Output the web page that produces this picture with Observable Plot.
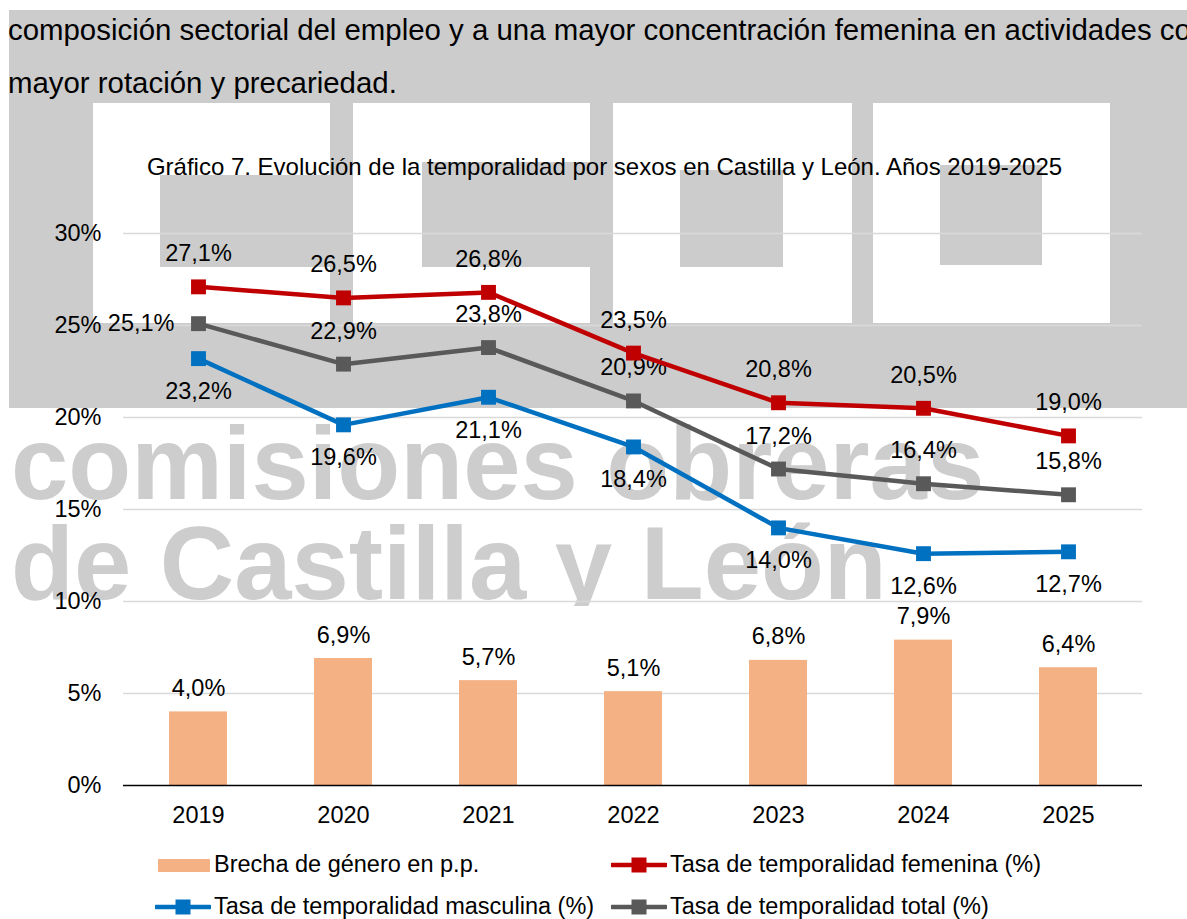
<!DOCTYPE html>
<html>
<head>
<meta charset="utf-8">
<script src="https://cdn.jsdelivr.net/npm/d3@7"></script>
<script src="https://cdn.jsdelivr.net/npm/@observablehq/plot@0.6"></script>
<style>
  html, body { margin: 0; padding: 0; background: #fff; width: 1187px; height: 919px; overflow: hidden; }
  body { position: relative; font-family: "Liberation Sans", Arial, sans-serif; color: #000; }
  .abs { position: absolute; }
  .wm { background: #cccccc; position: absolute; }
  .wh { background: #ffffff; position: absolute; }
  #para { left: 8px; top: 3.2px; font-size: 29.4px; line-height: 53px; white-space: nowrap; }
  #title { left: 604.5px; top: 154.7px; transform: translateX(-50%); font-size: 24px; line-height: 24px; white-space: nowrap; }
  #wmtext { left: 0; top: 410px; width: 1187px; height: 196px; overflow: hidden; }
  #wmtext div { position: absolute; left: 11px; top: 4.3px; font-size: 103px; line-height: 100px; font-weight: bold; color: #cdcdcd; white-space: nowrap; }
  #chart { left: 0; top: 190px; }
  .leg { position: absolute; font-size: 23.5px; line-height: 23.5px; white-space: nowrap; }
</style>
</head>
<body>
<!-- background watermark -->
<div class="wm" style="left:9px;top:10px;width:1178px;height:398px;"></div>
<div class="wh" style="left:93px;top:103px;width:237px;height:220px;"></div>
<div class="wh" style="left:353px;top:103px;width:237px;height:220px;"></div>
<div class="wh" style="left:613px;top:103px;width:239px;height:220px;"></div>
<div class="wh" style="left:873px;top:103px;width:237px;height:220px;"></div>
<div class="wm" style="left:160px;top:175px;width:170px;height:92px;"></div>
<div class="wm" style="left:422px;top:162px;width:168px;height:105px;"></div>
<div class="wm" style="left:680px;top:170px;width:103px;height:97px;"></div>
<div class="wm" style="left:940px;top:165px;width:102px;height:100px;"></div>
<div id="wmtext" class="abs"><div>comisiones obreras<br>de Castilla y León</div></div>

<div id="para" class="abs">composición sectorial del empleo y a una mayor concentración femenina en actividades con<br>mayor rotación y precariedad.</div>
<div id="title" class="abs">Gráfico 7. Evolución de la temporalidad por sexos en Castilla y León. Años 2019-2025</div>
<div id="chart" class="abs"></div>
<div id="legend"></div>

<script>
// ---- data ----
const years = ["2019", "2020", "2021", "2022", "2023", "2024", "2025"];
const brecha = [4.0, 6.9, 5.7, 5.1, 6.8, 7.9, 6.4];
const femenina = [27.1, 26.5, 26.8, 23.5, 20.8, 20.5, 19.0];
const masculina = [23.2, 19.6, 21.1, 18.4, 14.0, 12.6, 12.7];
const total = [25.1, 22.9, 23.8, 20.9, 17.2, 16.4, 15.8];
const yTicks = [0, 5, 10, 15, 20, 25, 30];
const seriesNames = ["Brecha de género en p.p.", "Tasa de temporalidad femenina (%)", "Tasa de temporalidad masculina (%)", "Tasa de temporalidad total (%)"];

const colors = { brecha: "#F4B183", femenina: "#C00000", masculina: "#0070C0", total: "#595959" };
const rows = years.map((year, i) => ({ year, brecha: brecha[i], femenina: femenina[i], masculina: masculina[i], total: total[i] }));
const fmt = v => v.toFixed(1).replace(".", ",") + "%";
const FS = 23.5;

function lineMarks(key, labelDy, firstLeft) {
  const marks = [
    Plot.line(rows, { x: "year", y: key, stroke: colors[key], strokeWidth: 4.5 }),
    Plot.dot(rows, { x: "year", y: key, symbol: "square", r: 8.4, fill: colors[key], stroke: "none" })
  ];
  if (firstLeft) {
    marks.push(Plot.text(rows.slice(0, 1), { x: "year", y: key, text: d => fmt(d[key]), dx: -24, textAnchor: "end", fontSize: FS, fill: "#000" }));
    marks.push(Plot.text(rows.slice(1), { x: "year", y: key, text: d => fmt(d[key]), dy: labelDy, fontSize: FS, fill: "#000" }));
  } else {
    marks.push(Plot.text(rows, { x: "year", y: key, text: d => fmt(d[key]), dy: labelDy, fontSize: FS, fill: "#000" }));
  }
  return marks;
}

const chart = Plot.plot({
  width: 1187,
  height: 660,
  marginTop: 43,
  marginBottom: 65,
  marginLeft: 123,
  marginRight: 45,
  style: { fontFamily: "'Liberation Sans', Arial, sans-serif", fontSize: FS + "px", background: "transparent", color: "#000", overflow: "visible" },
  x: { domain: years, paddingInner: 0.6, paddingOuter: 0.3, label: null },
  y: { domain: [0, 30], label: null },
  marks: [
    Plot.ruleY(yTicks.filter(d => d > 0), { stroke: "#d9d9d9", strokeWidth: 1.5 }),
    Plot.barY(rows, { x: "year", y: "brecha", fill: colors.brecha }),
    Plot.text(rows, { x: "year", y: "brecha", text: d => fmt(d.brecha), dy: -23.5, fontSize: FS, fill: "#000" }),
    Plot.ruleY([0], { stroke: "#000", strokeWidth: 1.5 }),
    ...lineMarks("masculina", 33, false),
    ...lineMarks("total", -33, true),
    ...lineMarks("femenina", -33, false),
    Plot.axisX({ tickSize: 0, tickPadding: 21, fontSize: FS, fill: "#000" }),
    Plot.axisY({ ticks: yTicks, tickSize: 0, tickPadding: 22, tickFormat: d => d + "%", fontSize: FS, fill: "#000" })
  ]
});
document.getElementById("chart").appendChild(chart);

// ---- legend ----
const legend = document.getElementById("legend");
const legendItems = [
  { name: seriesNames[0], key: "brecha", type: "bar", left: 158, textLeft: 214, cy: 865 },
  { name: seriesNames[1], key: "femenina", type: "line", left: 611, textLeft: 670, cy: 865 },
  { name: seriesNames[2], key: "masculina", type: "line", left: 155, textLeft: 214, cy: 907 },
  { name: seriesNames[3], key: "total", type: "line", left: 611, textLeft: 670, cy: 907 }
];
for (const it of legendItems) {
  if (it.type === "bar") {
    const sw = document.createElement("div");
    sw.style.cssText = `position:absolute;left:${it.left}px;top:${it.cy - 6.5}px;width:52px;height:13px;background:${colors[it.key]};`;
    legend.appendChild(sw);
  } else {
    const svg = d3.create("svg").attr("width", 56).attr("height", 20)
      .style("position", "absolute").style("left", it.left + "px").style("top", (it.cy - 10) + "px");
    svg.append("line").attr("x1", 1).attr("x2", 55).attr("y1", 10).attr("y2", 10)
      .attr("stroke", colors[it.key]).attr("stroke-width", 4.5).attr("stroke-linecap", "round");
    svg.append("rect").attr("x", 28 - 7.5).attr("y", 10 - 7.5).attr("width", 15).attr("height", 15).attr("fill", colors[it.key]);
    legend.appendChild(svg.node());
  }
  const t = document.createElement("div");
  t.className = "leg";
  t.style.left = it.textLeft + "px";
  t.style.top = (it.cy + 8 - 19.9) + "px";
  t.textContent = it.name;
  legend.appendChild(t);
}
</script>
</body>
</html>
